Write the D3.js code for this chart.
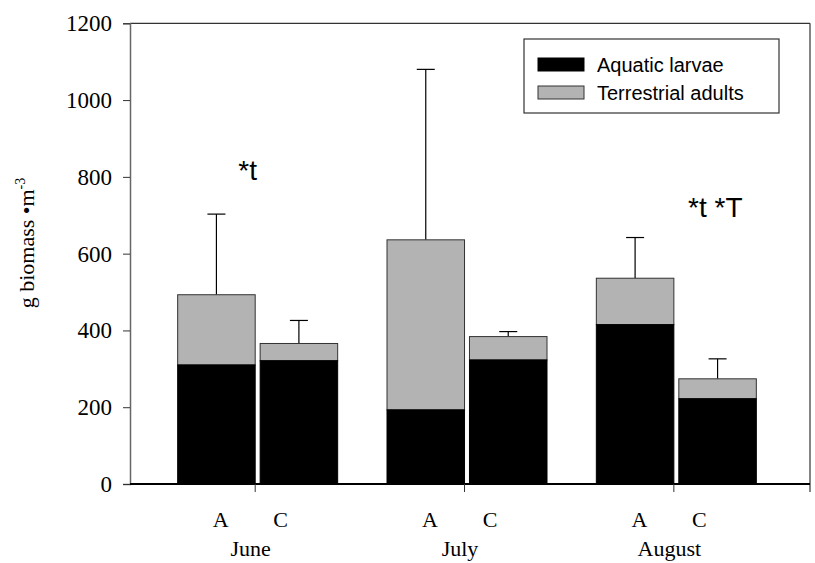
<!DOCTYPE html>
<html><head><meta charset="utf-8">
<script src="https://cdn.jsdelivr.net/npm/d3@7"></script>
<style>body{margin:0;background:#fff}svg{display:block}</style>
</head><body>
<script>
const months = ["June", "July", "August"];
const treatments = ["A", "C"];
const seriesNames = ["Aquatic larvae", "Terrestrial adults"];
// values per bar in order June A, June C, July A, July C, August A, August C
const aquatic = [310, 321, 193, 323, 415, 222];
const terrestrial = [183, 45, 443, 61, 121, 52];
const errorTop = [703, 426, 1080, 397, 642, 326];
const yTicks = [0, 200, 400, 600, 800, 1000, 1200];
const annotations = [{month: "June", text: "*t"}, {month: "August", text: "*t *T"}];

const W = 815, H = 563;
const L = 130, R = 810, T = 23.3, B = 484;
const svg = d3.select("body").append("svg").attr("width", W).attr("height", H);

const y = d3.scaleLinear().domain([0, 1200]).range([B, T]);
const xm = d3.scaleBand().domain(months).range([154, 782]).padding(0);
const xt = d3.scaleBand().domain(treatments).range([-81, 79]).paddingInner(0.06);
const center = m => xm(m) + xm.bandwidth() / 2;

const bars = [];
months.forEach((m, i) => treatments.forEach((t, j) => {
  const k = i * 2 + j;
  bars.push({m, t, aq: aquatic[k], te: terrestrial[k], err: errorTop[k]});
}));

const serif = "'Liberation Serif','Times New Roman',serif";
const sans = "'Liberation Sans',Arial,sans-serif";

// error bars (behind)
const eb = svg.append("g").attr("stroke", "#000").attr("stroke-width", 1.2);
bars.forEach(d => {
  const cx = center(d.m) + xt(d.t) + xt.bandwidth() / 2;
  eb.append("line").attr("x1", cx).attr("x2", cx).attr("y1", y(d.aq + d.te)).attr("y2", y(d.err));
  eb.append("line").attr("x1", cx - 9).attr("x2", cx + 9).attr("y1", y(d.err)).attr("y2", y(d.err));
});

// bars
const bg = svg.append("g");
bars.forEach(d => {
  const x0 = center(d.m) + xt(d.t);
  bg.append("rect").attr("x", x0).attr("width", xt.bandwidth())
    .attr("y", y(d.aq + d.te)).attr("height", y(d.aq) - y(d.aq + d.te))
    .attr("fill", "#b3b3b3").attr("stroke", "#333").attr("stroke-width", 1);
  bg.append("rect").attr("x", x0).attr("width", xt.bandwidth())
    .attr("y", y(d.aq)).attr("height", y(0) - y(d.aq))
    .attr("fill", "#000").attr("stroke", "#000").attr("stroke-width", 1);
});

// frame
svg.append("line").attr("x1", L).attr("x2", R).attr("y1", T).attr("y2", T).attr("stroke", "#333").attr("stroke-width", 1.2);
svg.append("line").attr("x1", R).attr("x2", R).attr("y1", T).attr("y2", B + 8).attr("stroke", "#333").attr("stroke-width", 1.2);

// y axis
const ya = svg.append("g").attr("transform", `translate(${L},0)`)
  .call(d3.axisLeft(y).tickValues(yTicks).tickSize(7).tickPadding(11).tickFormat(d3.format("d")));
ya.attr("font-family", null).attr("font-size", null);
ya.select(".domain").attr("stroke", "#666").attr("stroke-width", 1.5);
ya.selectAll(".tick line").attr("stroke", "#333");
ya.selectAll("text").style("font-family", serif).style("font-size", "23px").attr("fill", "#000");

// x axis
svg.append("line").attr("x1", L).attr("x2", R).attr("y1", B).attr("y2", B).attr("stroke", "#000").attr("stroke-width", 2.2);
months.forEach(m => {
  const tx = center(m) + xt("A") + xt.bandwidth();
  svg.append("line").attr("x1", tx).attr("x2", tx).attr("y1", B).attr("y2", B + 8).attr("stroke", "#333").attr("stroke-width", 1);
});

// category labels
const labOff = {A: -38, C: 22};
months.forEach(m => {
  treatments.forEach(t => {
    svg.append("text").attr("x", center(m) + labOff[t]).attr("y", 527)
      .attr("text-anchor", "middle").style("font-family", serif).style("font-size", "22px").text(t);
  });
  svg.append("text").attr("x", center(m) - 8).attr("y", 556)
    .attr("text-anchor", "middle").style("font-family", serif).style("font-size", "22px").text(m);
});

// y title
const yt = svg.append("text").attr("transform", "translate(34,243) rotate(-90)")
  .attr("text-anchor", "middle").style("font-family", serif).style("font-size", "22px");
yt.append("tspan").text("g biomass \u2022m");
yt.append("tspan").attr("dy", -9).style("font-size", "14px").text("-3");

// annotations
annotations.forEach(a => {
  const isJune = a.month === "June";
  const k = months.indexOf(a.month) * 2;
  const ax = isJune ? center(a.month) - 11 : center(a.month) + 38;
  const ay = isJune ? y(errorTop[k]) - 34 : y(errorTop[k]) - 21;
  svg.append("text").attr("x", ax).attr("y", ay).attr("text-anchor", "middle")
    .style("font-family", sans).style("font-size", "28px").text(a.text);
});

// legend
const lg = svg.append("g");
lg.append("rect").attr("x", 524).attr("y", 39).attr("width", 255).attr("height", 74)
  .attr("fill", "#fff").attr("stroke", "#333").attr("stroke-width", 1.2);
const swFill = ["#000", "#b3b3b3"];
seriesNames.forEach((s, i) => {
  lg.append("rect").attr("x", 538).attr("y", 58 + i * 28).attr("width", 46).attr("height", 13)
    .attr("fill", swFill[i]).attr("stroke", i ? "#333" : "#000").attr("stroke-width", 1);
  lg.append("text").attr("x", 597).attr("y", 72 + i * 28).style("font-family", sans)
    .style("font-size", "20px").text(s);
});
</script>
</body></html>
